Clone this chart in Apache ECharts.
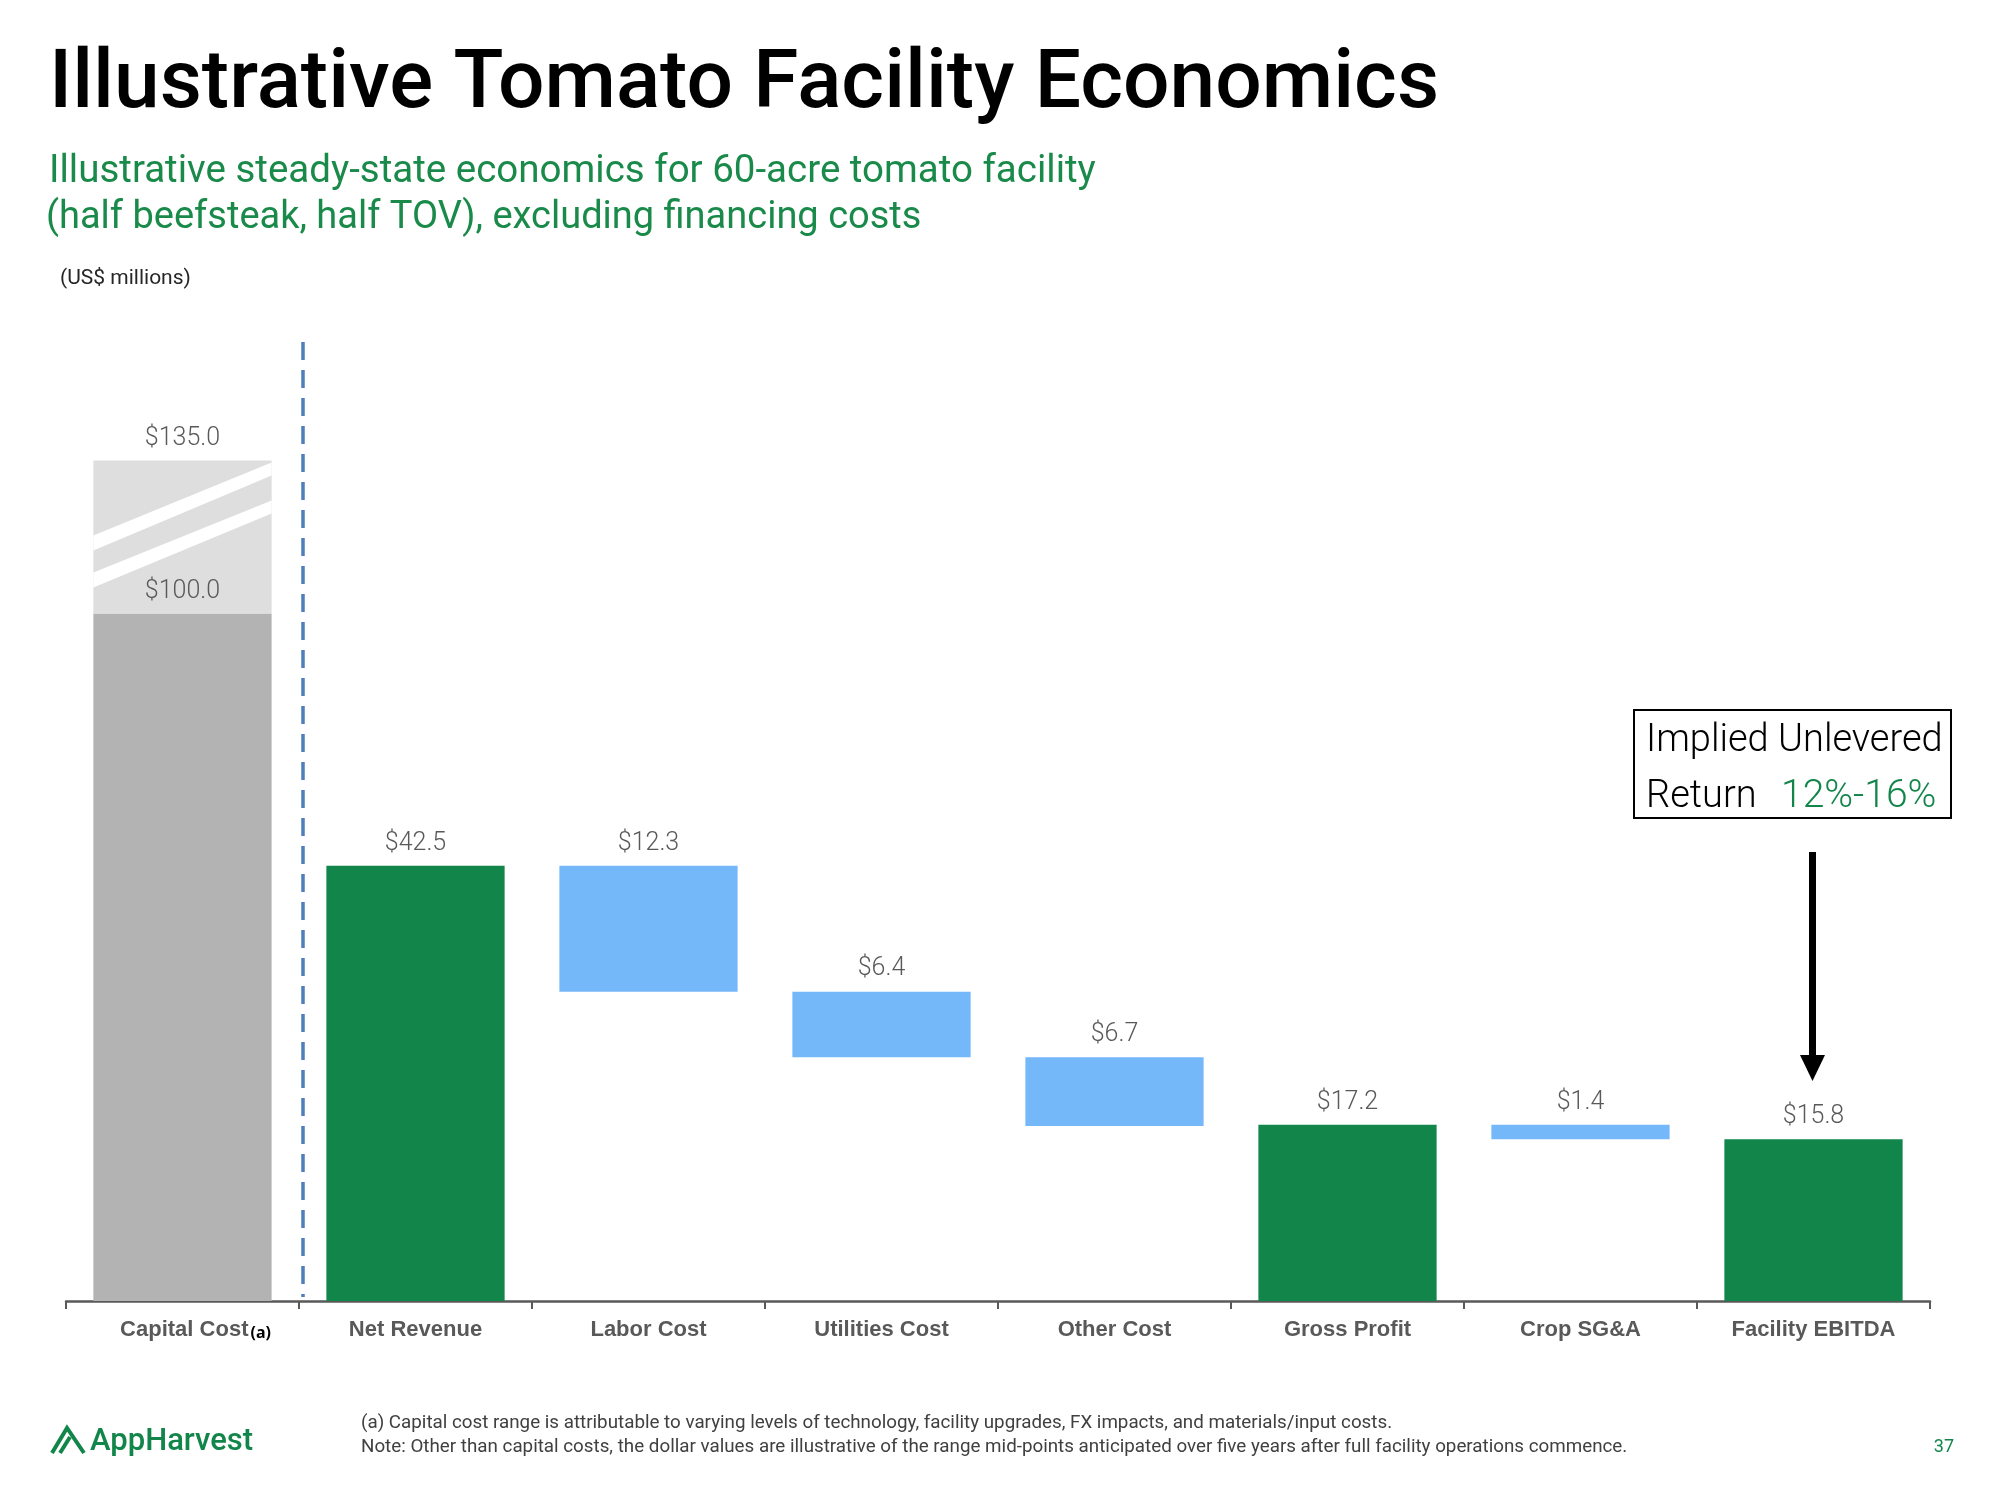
<!DOCTYPE html>
<html>
<head>
<meta charset="utf-8">
<script src="https://cdn.jsdelivr.net/npm/echarts@6/dist/echarts.min.js"></script>
<style>
html,body{margin:0;padding:0;background:#fff;}
#chart{width:2000px;height:1500px;}
</style>
</head>
<body>
<div id="chart"></div>
<script>
// ---------------- DATA ----------------
const categories = ['Capital Cost', 'Net Revenue', 'Labor Cost', 'Utilities Cost', 'Other Cost', 'Gross Profit', 'Crop SG&A', 'Facility EBITDA'];
const capitalCostRange = [100.0, 135.0];            // low / high capital cost (US$ millions)
const flowValues = [null, 42.5, 12.3, 6.4, 6.7, 17.2, 1.4, 15.8];
const flowKinds  = ['capital', 'total', 'cost', 'cost', 'cost', 'total', 'cost', 'total'];
const returnRange = '12%-16%';

// ---------------- STYLE ----------------
const GREEN = '#12864A';
const BLUE = '#74B8FA';
const GRAY_DARK = '#B3B3B3';
const GRAY_LIGHT = '#DEDEDE';
const LABEL_GRAY = '#595959';
const BREAK_COMPRESSION = 0.636;   // visual compression of the broken part of the capital bar

// waterfall bases computed from the data
const baseValues = [];
const shownValues = [];
let running = 0;
flowValues.forEach((v, i) => {
  const kind = flowKinds[i];
  if (kind === 'capital' || v == null) { baseValues.push(null); shownValues.push(null); return; }
  if (kind === 'total') { baseValues.push(0); shownValues.push({value: v, itemStyle: {color: GREEN}}); running = v; }
  else { running = running - v; baseValues.push(running); shownValues.push({value: v, itemStyle: {color: BLUE}}); }
});

const chart = echarts.init(document.getElementById('chart'), null, {renderer: 'canvas'});

function renderCapital(params, api) {
  const idx = api.value(0);
  const low = api.value(1);
  const high = api.value(2);
  const band = api.size([1, 0])[0];
  const w = band * 0.765;
  const c0 = api.coord([idx, 0]);
  const cLow = api.coord([idx, low]);
  const cHigh = api.coord([idx, low + (high - low) * BREAK_COMPRESSION]);
  const x0 = c0[0] - w / 2, x1 = c0[0] + w / 2;
  const yTop = cHigh[1], yMid = cLow[1], yBase = c0[1];
  const h = yMid - yTop;
  const k = h / 153;
  const children = [
    {type: 'rect', shape: {x: x0, y: yMid, width: w, height: yBase - yMid}, style: {fill: GRAY_DARK}},
    {type: 'rect', shape: {x: x0, y: yTop, width: w, height: h}, style: {fill: GRAY_LIGHT}},
    {type: 'polygon', shape: {points: [[x0, yTop + 75 * k], [x1, yTop + 2 * k], [x1, yTop + 15 * k], [x0, yTop + 90 * k]]}, style: {fill: '#fff'}},
    {type: 'polygon', shape: {points: [[x0, yTop + 112 * k], [x1, yTop + 40 * k], [x1, yTop + 53 * k], [x0, yTop + 127 * k]]}, style: {fill: '#fff'}},
    {type: 'text', style: {text: '$' + high.toFixed(1), x: c0[0], y: yTop - 9, align: 'center', verticalAlign: 'bottom', fontFamily: 'Roboto', fontWeight: 300, fontSize: 25, fill: LABEL_GRAY}},
    {type: 'text', style: {text: '$' + low.toFixed(1), x: c0[0], y: yMid - 9, align: 'center', verticalAlign: 'bottom', fontFamily: 'Roboto', fontWeight: 300, fontSize: 25, fill: LABEL_GRAY}}
  ];
  // dashed separator between capital and operating economics
  const top = params.coordSys.y;
  const sepX = c0[0] + band / 2 + 4;
  children.push({type: 'line', shape: {x1: sepX, y1: top, x2: sepX, y2: yBase - 4}, style: {stroke: '#4F7FB8', lineWidth: 3.5, lineDash: [18, 10]}});
  return {type: 'group', children};
}

const option = {
  backgroundColor: '#fff',
  animation: false,
  grid: {left: 66, right: 70, top: 342, bottom: 199, containLabel: false},
  xAxis: {
    type: 'category',
    data: categories,
    axisLine: {show: true, lineStyle: {color: LABEL_GRAY, width: 2.5}},
    axisTick: {show: true, alignWithLabel: false, interval: 0, length: 8, lineStyle: {color: LABEL_GRAY, width: 2}},
    axisLabel: {
      interval: 0,
      margin: 18,
      fontFamily: 'Liberation Sans',
      fontWeight: 'bold',
      fontSize: 22,
      color: LABEL_GRAY,
      formatter: function (v) { return v === 'Capital Cost' ? '{c|' + v + '}{a|(a)}' : v; },
      rich: {
        c: {fontFamily: 'Liberation Sans', fontWeight: 'bold', fontSize: 22, color: LABEL_GRAY, padding: [0, 0, 0, 26]},
        a: {fontFamily: 'Noto Sans', fontWeight: 'bold', fontSize: 16, color: '#000', padding: [6, 0, 0, 2]}
      }
    }
  },
  yAxis: [
    {type: 'value', min: 0, max: 93.65, show: false, splitLine: {show: false}},
    {type: 'value', min: 0, max: 139.5, show: false, splitLine: {show: false}}
  ],
  series: [
    {
      name: 'base', type: 'bar', stack: 'wf', barWidth: '76.5%', silent: true,
      itemStyle: {color: 'rgba(0,0,0,0)'},
      data: baseValues
    },
    {
      name: 'value', type: 'bar', stack: 'wf', barWidth: '76.5%',
      data: shownValues,
      label: {
        show: true, position: 'top', distance: 10,
        fontFamily: 'Roboto', fontWeight: 300, fontSize: 25, color: LABEL_GRAY,
        formatter: p => (p.value == null ? '' : '$' + Number(p.value).toFixed(1))
      }
    },
    {
      name: 'capital', type: 'custom', xAxisIndex: 0, yAxisIndex: 1,
      renderItem: renderCapital,
      encode: {x: 0, y: 1},
      data: [[0, capitalCostRange[0], capitalCostRange[1]]],
      z: 3
    }
  ],
  graphic: [
    {type: 'text', left: 49, top: 45, style: {text: 'Illustrative Tomato Facility Economics', fontFamily: 'Roboto', fontWeight: 500, fontSize: 82, fill: '#000'}},
    {type: 'text', left: 49, top: 153, style: {text: 'Illustrative steady-state economics for 60-acre tomato facility', fontFamily: 'Roboto', fontWeight: 400, fontSize: 38.5, fill: '#1A8A4A'}},
    {type: 'text', left: 46, top: 199, style: {text: '(half beefsteak, half TOV), excluding financing costs', fontFamily: 'Roboto', fontWeight: 400, fontSize: 38, fill: '#1A8A4A'}},
    {type: 'text', left: 60, top: 268, style: {text: '(US$ millions)', fontFamily: 'Roboto', fontWeight: 400, fontSize: 21, fill: '#262626'}},
    // return box
    {type: 'rect', shape: {x: 1634, y: 710, width: 317, height: 108}, style: {fill: '#fff', stroke: '#000', lineWidth: 2}},
    {type: 'text', x: 1646, y: 741, style: {text: 'Implied Unlevered', fontFamily: 'Roboto', fontWeight: 300, fontSize: 38, fill: '#000', verticalAlign: 'middle'}},
    {type: 'text', x: 1646, y: 797, style: {text: 'Return', fontFamily: 'Roboto', fontWeight: 300, fontSize: 38, fill: '#000', verticalAlign: 'middle'}},
    {type: 'text', x: 1781, y: 797, style: {text: returnRange, fontFamily: 'Roboto', fontWeight: 300, fontSize: 39, fill: GREEN, verticalAlign: 'middle'}},
    // arrow
    {type: 'rect', shape: {x: 1809, y: 852, width: 7, height: 205}, style: {fill: '#000'}},
    {type: 'polygon', shape: {points: [[1800, 1055], [1825, 1055], [1812.5, 1081]]}, style: {fill: '#000'}},
    // footer
    {type: 'polyline', shape: {points: [[52, 1453], [67, 1428], [84, 1453]]}, style: {stroke: GREEN, lineWidth: 4, fill: null}},
    {type: 'line', shape: {x1: 60, y1: 1453, x2: 70, y2: 1437}, style: {stroke: GREEN, lineWidth: 4}},
    {type: 'text', x: 90, y: 1442, style: {text: 'AppHarvest', fontFamily: 'Roboto', fontWeight: 500, fontSize: 31, fill: GREEN, verticalAlign: 'middle'}},
    {type: 'text', x: 361, y: 1423, style: {text: '(a) Capital cost range is attributable to varying levels of technology, facility upgrades, FX impacts, and materials/input costs.', fontFamily: 'Roboto', fontWeight: 400, fontSize: 18.8, fill: '#404040', verticalAlign: 'middle'}},
    {type: 'text', x: 361, y: 1447, style: {text: 'Note: Other than capital costs, the dollar values are illustrative of the range mid-points anticipated over five years after full facility operations commence.', fontFamily: 'Roboto', fontWeight: 400, fontSize: 18.8, fill: '#404040', verticalAlign: 'middle'}},
    {type: 'text', x: 1954, y: 1447, style: {text: '37', fontFamily: 'Roboto', fontWeight: 400, fontSize: 18, fill: GREEN, align: 'right', verticalAlign: 'middle'}}
  ]
};

chart.setOption(option);
</script>
</body>
</html>
